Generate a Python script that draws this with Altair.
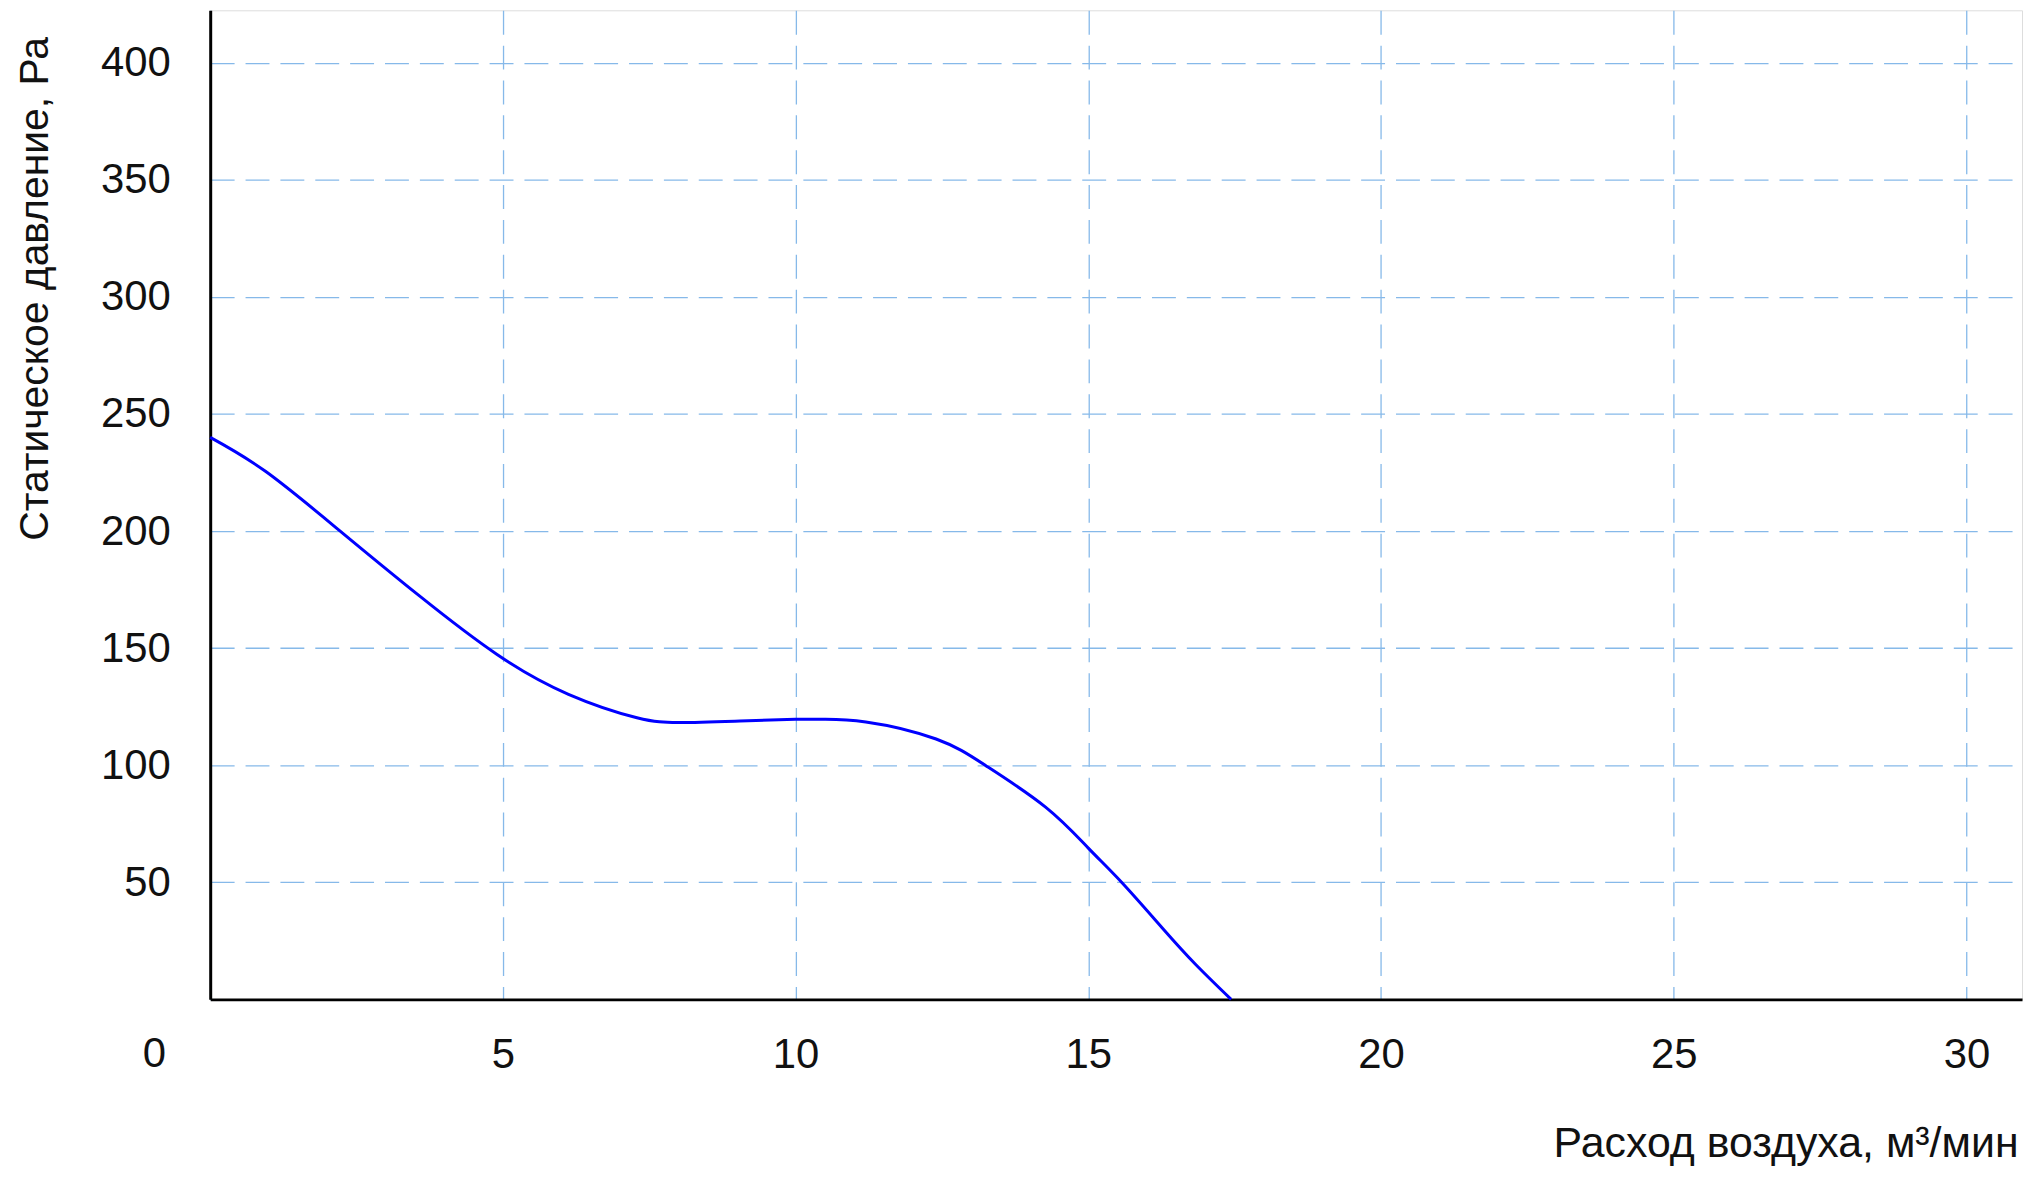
import altair as alt
import pandas as pd

# Curve (air flow, m3/min -> static pressure, Pa)
flow = [0.0, 0.95, 2.22, 3.58, 4.9, 6.12, 7.29, 8.03, 9.05, 10.0, 10.4, 11.2,
        12.40, 13.25, 14.27, 15.0, 15.58, 16.26, 16.83, 17.44]
pressure = [240, 225.4, 200, 172.2, 147.3, 130.3, 120.3, 118.2, 118.9, 119.6, 119.6, 118.5,
            111.2, 99.8, 82.1, 64.6, 49.7, 30.6, 15, 0]

x_ticks = [0, 5, 10, 15, 20, 25, 30]
y_ticks = [0, 50, 100, 150, 200, 250, 300, 350, 400]

x_title = "Расход воздуха, м³/мин"
y_title = "Статическое давление, Ра"

FONT = "Liberation Sans Narrow, Arial Narrow, Liberation Sans, sans-serif"
W, H = 1819, 993

df = pd.DataFrame({"flow": flow, "pressure": pressure})

line = alt.Chart(df).mark_line(
    color="#0000ff", strokeWidth=3, interpolate="natural"
).encode(
    x=alt.X("flow:Q",
            scale=alt.Scale(domain=[0, 30.95], nice=False, zero=False),
            axis=alt.Axis(
                values=x_ticks,
                labelExpr="datum.value == 0 ? '' : datum.label",
                title=x_title,
                titleX=W - 4, titleY=158, titleAlign="right",
                titleBaseline="alphabetic", titleFontSize=43,
                titleFont=FONT, titleFontWeight="normal", titleColor="#111",
                labelFont=FONT, labelFontSize=42, labelColor="#111",
                labelPadding=55, labelBaseline="middle",
                ticks=False, tickSize=0,
                domainColor="#000", domainWidth=3,
                grid=True, gridColor="#86b9e9", gridDash=[24, 11], gridWidth=1.3,
            )),
    y=alt.Y("pressure:Q",
            scale=alt.Scale(domain=[0, 422.4], nice=False, zero=False),
            axis=alt.Axis(
                values=y_ticks,
                labelExpr="datum.value == 0 ? '' : datum.label",
                title=y_title,
                titleX=-163, titleY=532, titleAngle=270, titleAlign="left",
                titleBaseline="alphabetic", titleFontSize=41,
                titleFont=FONT, titleFontWeight="normal", titleColor="#111",
                labelFont=FONT, labelFontSize=42, labelColor="#111",
                labelPadding=40,
                ticks=False, tickSize=0,
                domainColor="#000", domainWidth=3,
                grid=True, gridColor="#86b9e9", gridDash=[24, 11], gridWidth=1.3,
            )),
)

zero_label = alt.Chart(pd.DataFrame({"t": ["0"]})).mark_text(
    font=FONT, fontSize=42, color="#111", align="center", baseline="middle"
).encode(
    text="t:N",
    x=alt.value(-56),
    y=alt.value(1048),
)

chart = alt.layer(line, zero_label).properties(
    width=W, height=H,
    autosize=alt.AutoSizeParams(type="none"),
    padding={"left": 203, "top": 0, "right": 6, "bottom": 168},
).configure_view(stroke=None).configure(background="white")

chart.save("out.html", embed_options={"renderer": "svg", "actions": False})
